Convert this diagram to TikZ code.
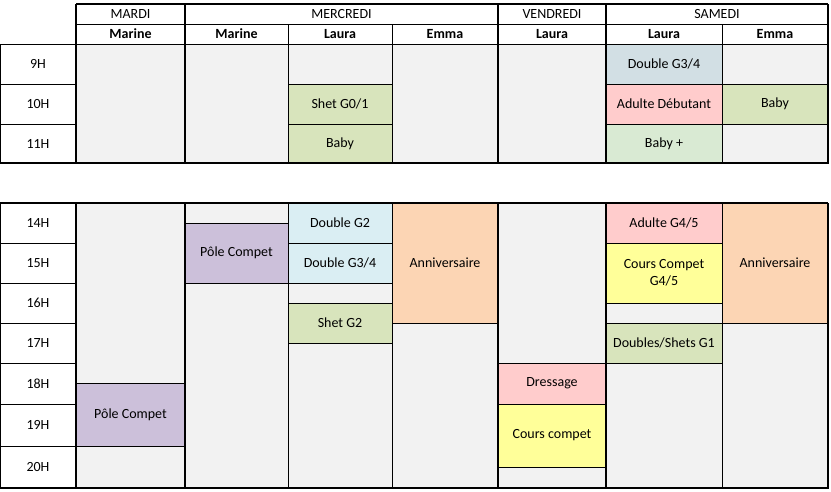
\documentclass[tikz,border=0pt]{standalone}
\usepackage{fontspec}
\setmainfont{Carlito}
\usetikzlibrary{calc}
\definecolor{gr}{HTML}{F2F2F2}
\definecolor{pu}{HTML}{CCC0DA}
\definecolor{gn}{HTML}{D8E4BC}
\definecolor{lg}{HTML}{D9EAD3}
\definecolor{bl}{HTML}{DAEEF3}
\definecolor{bg}{HTML}{D2DFE4}
\definecolor{or}{HTML}{FCD5B4}
\definecolor{pk}{HTML}{FFCCCC}
\definecolor{ye}{HTML}{FFFF99}
\tikzset{thin line/.style={line width=1pt},thick line/.style={line width=2.2pt},
 txt/.style={font=\fontsize{14}{17}\selectfont,align=center,inner sep=0pt}}
\newcommand{\cellbox}[7]{% name x1 y1 x2 y2 color text
 \filldraw[fill=#6,draw=black,thin line] (#2,#3) rectangle (#4,#5);
 \node[txt] (#1) at ($(#2,#3)!0.5!(#4,#5)$) {#7};}
\begin{document}
\begin{tikzpicture}[x=1pt,y=-1pt]
\useasboundingbox (0,0) rectangle (831,491);
\fill[white] (0,0) rectangle (831,491);
% time column
\foreach \a/\b in {44/84,84/124,124/163,203/243,243/283,283/323,323/363,363/404,404/446,446/488}
  \draw[thin line] (0,\a) rectangle (76,\b);
\foreach \t/\y in {9H/64,10H/104,11H/143.5,14H/223,15H/263,16H/303,17H/343,18H/383.5,19H/425,20H/467}
  \node[txt] (t\t) at (38,\y) {\t};
% headers
\cellbox{hma}{76}{4}{185}{24}{white}{MARDI}
\cellbox{hme}{185}{4}{498}{24}{white}{MERCREDI}
\cellbox{hve}{498}{4}{606}{24}{white}{VENDREDI}
\cellbox{hsa}{606}{4}{828}{24}{white}{SAMEDI}
\cellbox{p1}{76}{24}{185}{44}{white}{\bfseries Marine}
\cellbox{p2}{185}{24}{288}{44}{white}{\bfseries Marine}
\cellbox{p3}{288}{24}{392}{44}{white}{\bfseries Laura}
\cellbox{p4}{392}{24}{498}{44}{white}{\bfseries Emma}
\cellbox{p5}{498}{24}{606}{44}{white}{\bfseries Laura}
\cellbox{p6}{606}{24}{722}{44}{white}{\bfseries Laura}
\cellbox{p7}{722}{24}{828}{44}{white}{\bfseries Emma}
% morning
\cellbox{m1}{76}{44}{185}{163}{gr}{}
\cellbox{m2}{185}{44}{288}{163}{gr}{}
\cellbox{m3}{288}{44}{392}{84}{gr}{}
\cellbox{m4}{288}{84}{392}{124}{gn}{Shet G0/1}
\cellbox{m5}{288}{124}{392}{163}{gn}{Baby}
\cellbox{m6}{392}{44}{498}{163}{gr}{}
\cellbox{m7}{498}{44}{606}{163}{gr}{}
\cellbox{m8}{606}{44}{722}{84}{bg}{Double G3/4}
\cellbox{m9}{606}{84}{722}{124}{pk}{Adulte Débutant}
\cellbox{m10}{606}{124}{722}{163}{lg}{Baby +}
\cellbox{m11}{722}{44}{828}{84}{gr}{}
\cellbox{m12}{722}{84}{828}{124}{gn}{Baby}
\cellbox{m13}{722}{124}{828}{163}{gr}{}
% afternoon
\cellbox{a1}{76}{203}{185}{383}{gr}{}
\cellbox{a2}{76}{383}{185}{446}{pu}{Pôle Compet}
\cellbox{a3}{76}{446}{185}{488}{gr}{}
\cellbox{a4}{185}{203}{288}{223}{gr}{}
\cellbox{a5}{185}{223}{288}{283}{pu}{Pôle Compet}
\cellbox{a6}{185}{283}{288}{488}{gr}{}
\cellbox{a7}{288}{203}{392}{243}{bl}{Double G2}
\cellbox{a8}{288}{243}{392}{283}{bl}{Double G3/4}
\cellbox{a9}{288}{283}{392}{303}{gr}{}
\cellbox{a10}{288}{303}{392}{343}{gn}{Shet G2}
\cellbox{a11}{288}{343}{392}{488}{gr}{}
\cellbox{a12}{392}{203}{498}{323}{or}{Anniversaire}
\cellbox{a13}{392}{323}{498}{488}{gr}{}
\cellbox{a14}{498}{203}{606}{363}{gr}{}
\cellbox{a15}{498}{363}{606}{404}{pk}{Dressage}
\cellbox{a16}{498}{404}{606}{467}{ye}{Cours compet}
\cellbox{a17}{498}{467}{606}{488}{gr}{}
\cellbox{a18}{606}{203}{722}{243}{pk}{Adulte G4/5}
\cellbox{a19}{606}{243}{722}{303}{ye}{Cours Compet\\G4/5}
\cellbox{a20}{606}{303}{722}{323}{gr}{}
\cellbox{a21}{606}{323}{722}{363}{gn}{Doubles/Shets G1}
\cellbox{a22}{606}{363}{722}{488}{gr}{}
\cellbox{a23}{722}{203}{828}{323}{or}{Anniversaire}
\cellbox{a24}{722}{323}{828}{488}{gr}{}
% thick borders
\draw[thick line] (76,4) -- (828,4);
\foreach \x in {76,185,498,606,828} {
  \draw[thick line] (\x,4) -- (\x,163);
  \draw[thick line] (\x,203) -- (\x,488);}
\draw[thick line] (0,163) -- (828,163);
\draw[thick line] (0,203) -- (828,203);
\draw[thick line] (0,488) -- (828,488);
\end{tikzpicture}
\end{document}
